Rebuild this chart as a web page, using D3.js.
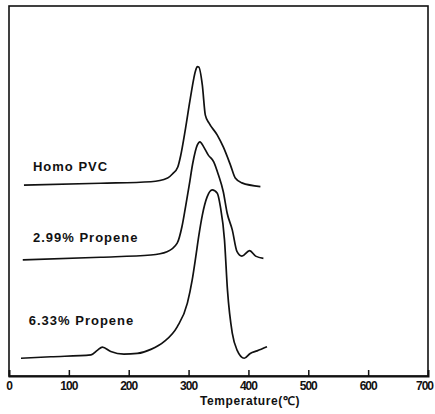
<!DOCTYPE html>
<html>
<head>
<meta charset="utf-8">
<script src="https://cdn.jsdelivr.net/npm/d3@7"></script>
<style>
  body { margin: 0; background: #fff; }
  text { font-family: "Liberation Sans", Arial, sans-serif; font-weight: bold; fill: #111; }
</style>
</head>
<body>
<div id="chart"></div>
<script>
// temperature (°C) and signal (arbitrary units, curves stacked with their own baseline)
const homoTemp = [25, 153, 237, 265, 273, 282, 287, 295, 303, 312, 314.5, 317, 323, 328, 334, 348, 358, 370, 378, 389, 420];
const homoSignal = [51.6, 52.1, 52.5, 53.5, 54.6, 56.5, 59.7, 67.0, 75.1, 82.7, 83.6, 83.5, 78.6, 70.5, 68.4, 65.1, 61.9, 57.0, 53.5, 52.2, 51.2];

const pp299Temp = [23, 153, 237, 264, 281, 289, 295, 301, 307, 314.5, 319, 325, 333, 342, 350, 358, 364.5, 373, 381, 389, 402, 412, 425];
const pp299Signal = [31.4, 32.1, 32.7, 33.6, 35.9, 40.4, 45.8, 51.5, 57.5, 62.4, 63.3, 62.0, 59.7, 57.9, 54.3, 49.8, 44.0, 39.5, 33.6, 32.4, 33.9, 32.4, 31.8];

const pp633Temp = [20, 70, 137, 148, 156, 170, 192, 214.5, 237, 259, 281, 298, 306, 312, 317, 323, 331, 339.5, 348, 353, 360, 365, 373, 381, 393, 403, 414.5, 431];
const pp633Signal = [4.8, 5.2, 5.7, 7.0, 7.8, 6.6, 5.9, 6.1, 7.2, 9.3, 13.3, 19.7, 25.9, 32.2, 37.8, 43.5, 48.4, 50.3, 49.4, 45.9, 36.8, 23.2, 11.6, 7.0, 4.8, 6.1, 6.8, 7.9];

const seriesNames = ['Homo PVC', '2.99% Propene', '6.33% Propene'];
// label anchor: temperature and signal level where the label text sits
const labelTemp = [40, 40, 33];
const labelSignal = [55.4, 36.2, 13.8];

const xTicks = [0, 100, 200, 300, 400, 500, 600, 700];

class TgaChart {
    constructor(_config) {
        this.config = {
            parentElement: _config.parentElement,
            containerWidth: _config.containerWidth || 435,
            containerHeight: _config.containerHeight || 414,
        };
        this.series = [
            {name: seriesNames[0], temp: homoTemp, signal: homoSignal},
            {name: seriesNames[1], temp: pp299Temp, signal: pp299Signal},
            {name: seriesNames[2], temp: pp633Temp, signal: pp633Signal},
        ];
        this.initVis();
    }

    initVis() {
        let vis = this;

        vis.svg = d3.select(vis.config.parentElement)
            .append('svg')
            .attr('width', vis.config.containerWidth)
            .attr('height', vis.config.containerHeight);

        vis.xScale = d3.scaleLinear().domain([0, 700]).range([9, 428]);
        vis.yScale = d3.scaleLinear().domain([0, 100]).range([376, 6]);

        vis.renderVis();
    }

    renderVis() {
        let vis = this;
        const [x0, x1] = vis.xScale.range();
        const [y0, y1] = vis.yScale.range();

        // frame
        vis.svg.append('rect')
            .attr('x', x0).attr('y', y1)
            .attr('width', x1 - x0).attr('height', y0 - y1)
            .attr('fill', 'none')
            .attr('stroke', '#111')
            .attr('stroke-width', 1.6);

        // bottom axis with inward ticks
        const xAxis = d3.axisTop(vis.xScale)
            .tickValues(xTicks.slice(1, -1))
            .tickSize(6)
            .tickFormat('');
        vis.svg.append('g')
            .attr('transform', `translate(0,${y0})`)
            .call(xAxis)
            .call(g => g.select('.domain').attr('stroke-width', 2).attr('stroke', '#111'))
            .call(g => g.selectAll('.tick line').attr('stroke-width', 1.5).attr('stroke', '#111'));

        // tick labels; the last one is kept inside the picture
        const last = xTicks[xTicks.length - 1];
        vis.svg.append('g')
            .selectAll('text')
            .data(xTicks)
            .join('text')
            .attr('x', d => d === last ? vis.xScale(d) + 5 : vis.xScale(d))
            .attr('y', 390)
            .attr('text-anchor', d => d === last ? 'end' : 'middle')
            .attr('font-size', 12)
            .attr('letter-spacing', -1)
            .text(d => d);

        vis.svg.append('text')
            .attr('x', 250)
            .attr('y', 405)
            .attr('text-anchor', 'middle')
            .attr('font-size', 12)
            .attr('letter-spacing', 0.6)
            .text('Temperature(℃)');

        const line = d3.line()
            .x(d => vis.xScale(d[0]))
            .y(d => vis.yScale(d[1]))
            .curve(d3.curveMonotoneX);

        vis.svg.append('g')
            .selectAll('path')
            .data(vis.series)
            .join('path')
            .attr('d', s => line(d3.zip(s.temp, s.signal)))
            .attr('fill', 'none')
            .attr('stroke', '#111')
            .attr('stroke-width', 1.7)
            .attr('stroke-linejoin', 'round');

        vis.svg.append('g')
            .selectAll('text')
            .data(vis.series)
            .join('text')
            .attr('x', (d, i) => vis.xScale(labelTemp[i]))
            .attr('y', (d, i) => vis.yScale(labelSignal[i]))
            .attr('font-size', 13)
            .attr('letter-spacing', 1)
            .text(d => d.name);
    }
}

new TgaChart({parentElement: '#chart'});
</script>
</body>
</html>
